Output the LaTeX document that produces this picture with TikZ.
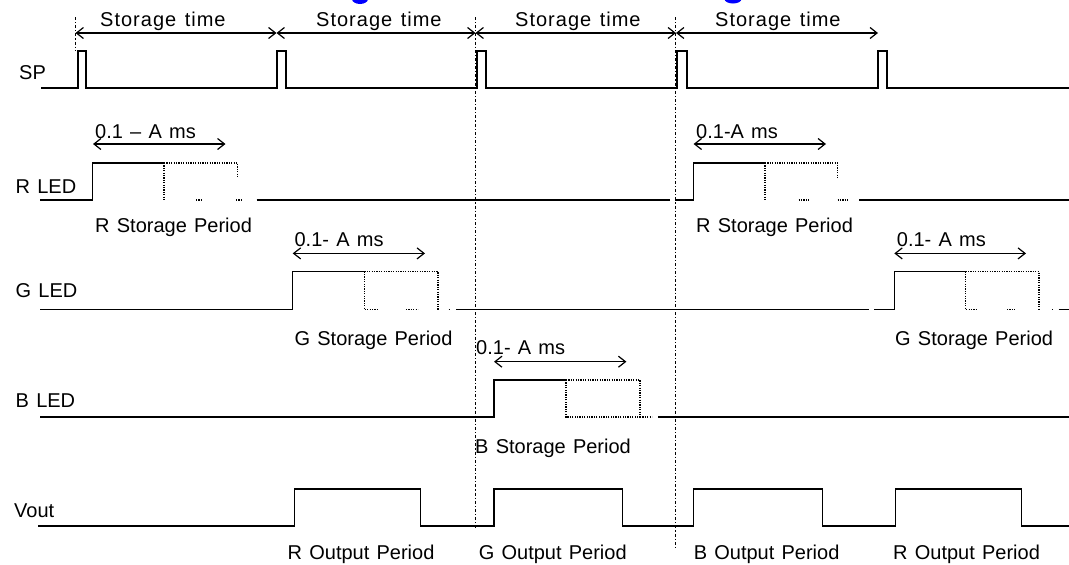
\documentclass[tikz,border=0pt]{standalone}
\usepackage{fontspec}
\setmainfont{Liberation Sans}[WordSpace=1.3]
\usetikzlibrary{arrows.meta}
\begin{document}
\begin{tikzpicture}[x=1pt,y=-1pt,
  wave/.style={line width=1.3pt, line join=miter},
  dotw/.style={line width=1.2pt, dash pattern=on 1.2pt off 1.2pt},
  guide/.style={line width=1.1pt, dash pattern=on 3pt off 2pt on 1.2pt off 2pt},
  dimarrow/.style={line width=1.2pt, {Straight Barb[length=7pt,width=11pt]}-{Straight Barb[length=7pt,width=11pt]}},
  lbl/.style={anchor=base west, inner sep=0pt, font=\fontsize{20}{22}\selectfont},
  wide/.style={lbl, font=\fontsize{20}{22}\selectfont\addfontfeature{LetterSpace=5}},
]
\useasboundingbox[fill=white] (0,0) rectangle (1069,565);

% cut-off blue title remnants
\begin{scope}
\clip (0,0) rectangle (1069,565);
\fill[blue] (360,-1) ellipse (8 and 5);
\fill[blue] (733,-1) ellipse (8.5 and 4.5);
\end{scope}

% guide lines
\coordinate (g0t) at (75.5,17);  \coordinate (g0b) at (75.5,50);
\coordinate (g1t) at (475.5,17); \coordinate (g1b) at (475.5,530);
\coordinate (g2t) at (675.5,17); \coordinate (g2b) at (675.5,547);
\draw[guide] (g0t) -- (g0b);
\draw[guide] (g1t) -- (g1b);
\draw[guide] (g2t) -- (g2b);

% storage time arrows
\coordinate (s0) at (75.5,33);
\coordinate (s1) at (276.5,33);
\coordinate (s2) at (475.5,33);
\coordinate (s3) at (676,33);
\coordinate (s4) at (878,33);
\draw[dimarrow] (s0) -- (s1);
\draw[dimarrow] (s1) -- (s2);
\draw[dimarrow] (s2) -- (s3);
\draw[dimarrow] (s3) -- (s4);
\node[wide] (st1) at (100,26) {Storage time};
\node[wide] (st2) at (316,26) {Storage time};
\node[wide] (st3) at (515,26) {Storage time};
\node[wide] (st4) at (715,26) {Storage time};

% SP
\node[lbl] (sp) at (19,79) {SP};
\draw[wave] (41,88) -- (78,88) -- (78,51) -- (86,51) -- (86,88) -- (277,88) -- (277,51) -- (286,51) -- (286,88)
  -- (477,88) -- (477,51) -- (486,51) -- (486,88) -- (677,88) -- (677,51) -- (687,51) -- (687,88)
  -- (878,88) -- (878,51) -- (887,51) -- (887,88) -- (1069,88);

% R LED
\node[lbl] (rled) at (15.5,193) {R LED};
\draw[wave] (40,200) -- (92.3,200) -- (92.3,163) -- (164,163);
\draw[dotw] (164,163) -- (237.5,163) -- (237.5,177);
\draw[dotw] (164,163) -- (164,200);
\draw[dotw] (196,200) -- (203,200);
\draw[dotw] (236,200) -- (243,200);
\draw[wave] (256.5,200) -- (670,200);
\draw[wave] (675,200) -- (693.6,200) -- (693.6,163) -- (765,163);
\draw[dotw] (765,163) -- (837.5,163) -- (837.5,177.5);
\draw[dotw] (765,163) -- (765,200);
\draw[dotw] (798.6,200) -- (809,200);
\draw[dotw] (837.5,200) -- (848.5,200);
\draw[wave] (859,200) -- (1069,200);
\coordinate (ra1) at (93,144);   \coordinate (rb1) at (225.5,144);
\coordinate (ra2) at (693.6,144); \coordinate (rb2) at (826,144);
\draw[dimarrow] (ra1) -- (rb1);
\draw[dimarrow] (ra2) -- (rb2);
\node[lbl] (rt1) at (95,138) {0.1 – A  ms};
\node[lbl] (rt2) at (696,138) {0.1-A ms};
\node[lbl] (rsp1) at (95,232) {R Storage Period};
\node[lbl] (rsp2) at (696,232) {R Storage Period};

% G LED
\node[lbl] (gled) at (15.5,297.5) {G LED};
\draw[wave] (40,309.5) -- (292.7,309.5) -- (292.7,271.6) -- (364.3,271.6);
\draw[dotw] (364.3,271.6) -- (438,271.6) -- (438,309.5);
\draw[dotw] (364.3,271.6) -- (364.3,309.5) -- (379,309.5);
\draw[dotw] (406,309.5) -- (418,309.5);
\draw[dotw] (448.5,309.5) -- (450,309.5);
\draw[wave] (456,309.5) -- (869,309.5);
\draw[wave] (874.4,309.5) -- (894.3,309.5) -- (894.3,271.6) -- (965.6,271.6);
\draw[dotw] (965.6,271.6) -- (1039,271.6) -- (1039,309.5);
\draw[dotw] (965.6,271.6) -- (965.6,309.5) -- (977.6,309.5);
\draw[dotw] (1007,309.5) -- (1015.5,309.5);
\draw[dotw] (1052,309.5) -- (1053.5,309.5);
\draw[wave] (1058.6,309.5) -- (1069,309.5);
\coordinate (ga1) at (292.7,253.4); \coordinate (gb1) at (425,253.4);
\coordinate (ga2) at (894.3,253.4); \coordinate (gb2) at (1026,253.4);
\draw[dimarrow] (ga1) -- (gb1);
\draw[dimarrow] (ga2) -- (gb2);
\node[lbl] (gt1) at (294.4,246) {0.1- A  ms};
\node[lbl] (gt2) at (896.7,246) {0.1- A  ms};
\node[lbl] (gsp1) at (294.4,345) {G Storage Period};
\node[lbl] (gsp2) at (895,345) {G Storage Period};

% B LED
\node[lbl] (bled) at (15.5,407) {B LED};
\draw[wave] (40,417) -- (494,417) -- (494,380) -- (566,380);
\draw[dotw] (566,380) -- (640,380) -- (640,417) -- (566,417) -- cycle;
\draw[dotw] (640,417) -- (652,417);
\draw[wave] (658,417) -- (1069,417);
\coordinate (ba) at (494,361.7); \coordinate (bb) at (626.4,361.7);
\draw[dimarrow] (ba) -- (bb);
\node[lbl] (bt) at (476,354) {0.1- A  ms};
\node[lbl] (bsp) at (475,453) {B Storage Period};

% Vout
\node[lbl] (vout) at (14,517) {Vout};
\draw[wave] (38,526) -- (294.4,526) -- (294.4,489) -- (420.8,489) -- (420.8,526) -- (494,526) -- (494,489)
  -- (622.3,489) -- (622.3,526) -- (693.6,526) -- (693.6,489) -- (822.7,489) -- (822.7,526)
  -- (895.7,526) -- (895.7,489) -- (1021.7,489) -- (1021.7,526) -- (1069,526);
\node[lbl] (rop1) at (287.5,559) {R Output Period};
\node[lbl] (gop) at (478.6,559) {G Output Period};
\node[lbl] (bop) at (693.6,559) {B Output Period};
\node[lbl] (rop2) at (893,559) {R Output Period};
\end{tikzpicture}
\end{document}
